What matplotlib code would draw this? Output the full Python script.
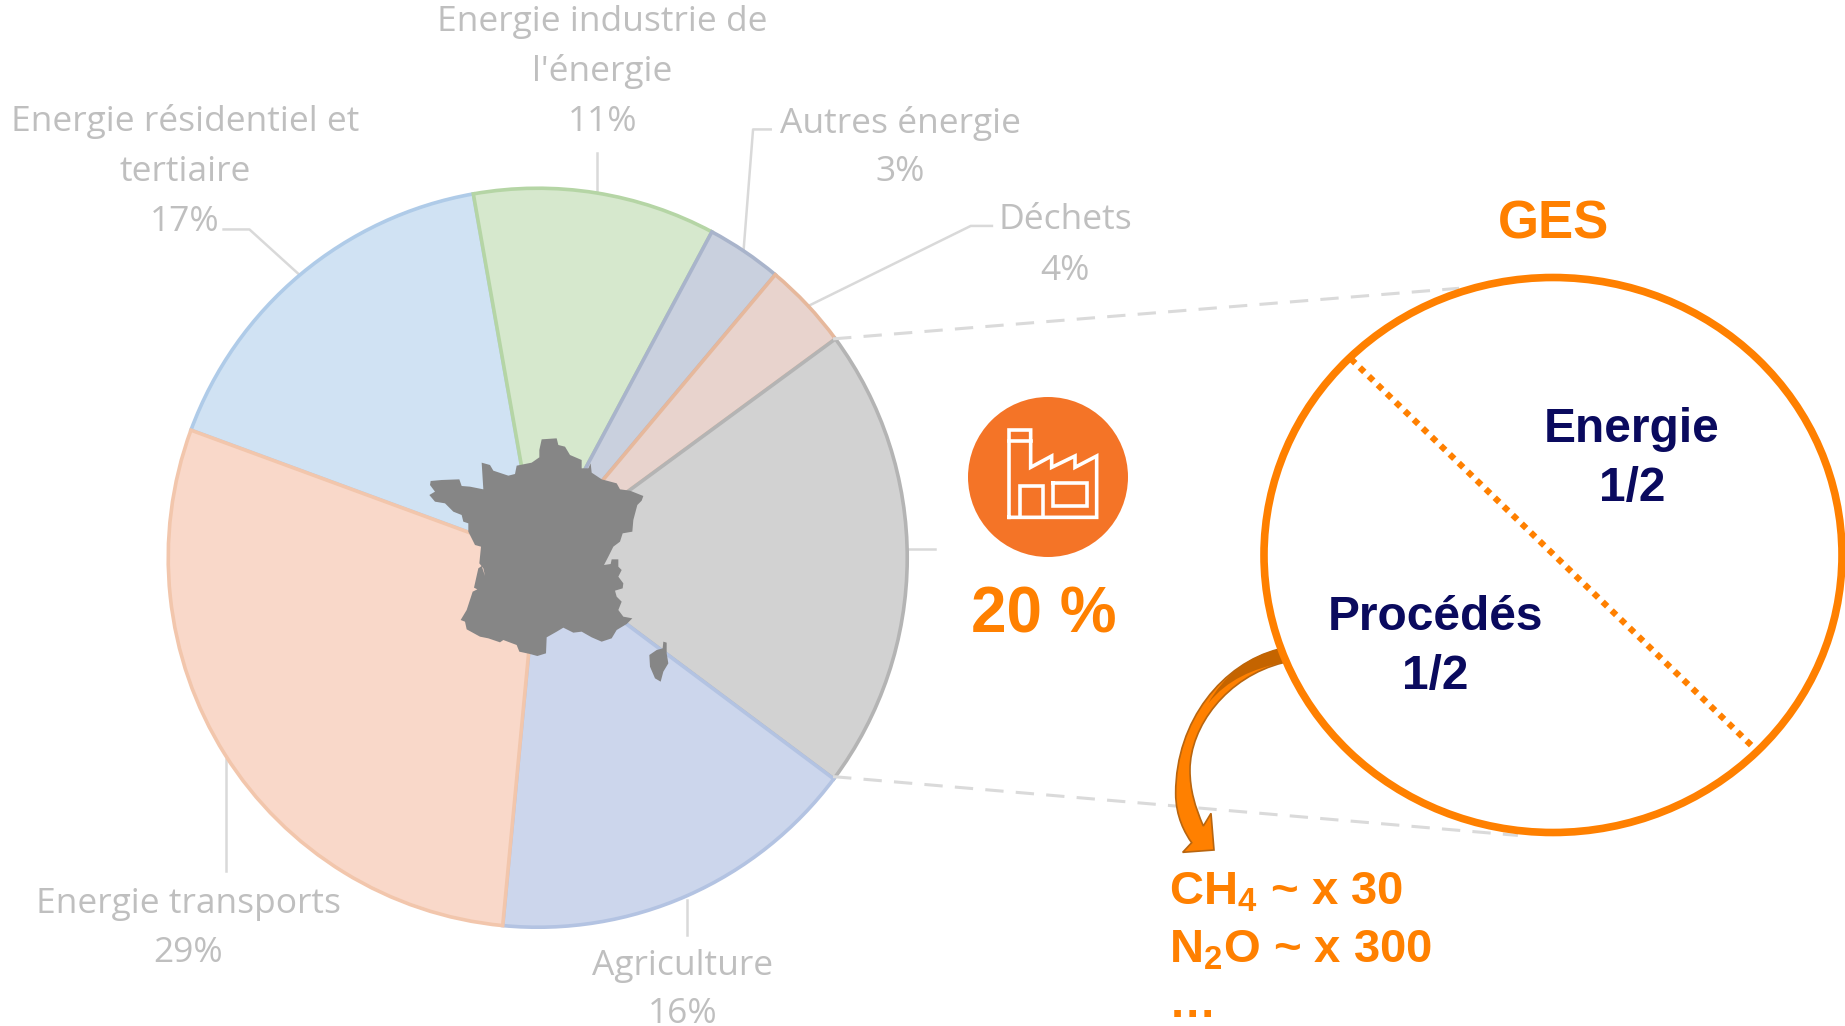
import numpy as np
import matplotlib
matplotlib.use("Agg")
import matplotlib.pyplot as plt
from matplotlib.patches import Polygon, Circle, Ellipse, PathPatch
from matplotlib.path import Path

W, H = 1845, 1026
K = 1845 / 1568.0  # the layout

plt.rcParams['mathtext.fontset'] = 'custom'
plt.rcParams['mathtext.rm'] = 'Liberation Sans:bold'
plt.rcParams['mathtext.default'] = 'regular'

# Pie data, measured from the slice angles (the printed labels are rounded)
sectors = ["Energie résidentiel et tertiaire", "Energie industrie de l'énergie", "Autres énergie",
           "Déchets", "Industrie", "Agriculture", "Energie transports"]
shares = [16.6, 10.6, 3.3, 3.8, 20.3, 16.3, 29.1]
fills = ["#D0E2F3", "#D6E8CD", "#C9D0DE", "#E8D3CD", "#D2D2D2", "#CCD6EC", "#F9D8C9"]
edges = ["#AFCBE8", "#B5D5A5", "#A9B4CB", "#E6B89C", "#B4B4B4", "#B3C3E2", "#F2C6AC"]

# Label lines: text, x, y in shrunk picture pixels
label_lines = [
    ("Energie industrie de", 512, 19), ("l'énergie", 512, 61), ("11%", 512, 104),
    ("Energie résidentiel et", 157, 103), ("tertiaire", 157, 146), ("17%", 157, 189),
    ("Autres énergie", 765, 105), ("3%", 765, 146),
    ("Déchets", 905, 187), ("4%", 905, 230),
    ("Energie transports", 160, 768), ("29%", 160, 810),
    ("Agriculture", 580, 821), ("16%", 580, 862),
]
leaders = [
    [(190, 195), (212, 195), (255, 234)],
    [(507, 130), (507, 163)],
    [(655, 110), (640, 110), (632, 212)],
    [(843, 192), (825, 192), (687, 260)],
    [(771, 467), (795, 467)],
    [(584, 765), (584, 795)],
    [(192, 645), (192, 740)],
]

france = [(425,118),(470,115),(475,135),(495,140),(510,165),(545,180),(545,205),(565,205),(572,190),(575,218),
          (605,238),(650,250),(660,268),(690,272),(730,288),(725,302),(712,315),(700,360),(697,395),(668,400),
          (660,425),(640,440),(625,470),(612,495),(632,492),(635,478),(655,478),(655,500),(665,510),(655,530),
          (670,550),(668,565),(645,572),(650,590),(665,605),(655,630),(670,650),(697,655),(680,672),(650,690),
          (635,715),(605,725),(575,712),(545,695),(520,698),(490,683),(470,695),(440,712),(438,760),(412,768),
          (390,762),(358,755),(350,735),(310,720),(300,727),(265,715),(240,710),(200,688),(195,665),(182,660),
          (200,630),(218,575),(232,568),(222,563),(235,505),(245,498),(255,528),(250,505),(238,490),(243,440),
          (225,435),(205,395),(205,370),(190,365),(185,345),(160,335),(135,310),(105,305),(88,285),(105,275),
          (90,255),(92,243),(125,240),(178,238),(185,258),(210,260),(250,268),(245,188),(270,195),(280,212),
          (325,227),(345,222),(350,197),(395,188),(418,172),(418,150)]
corsica = [(790,725),(800,728),(800,760),(805,790),(790,815),(782,845),(765,835),(750,800),(748,765),(770,750),(788,745)]

factory = [(207,412),(207,150),(272,150),(272,262),(335,228),(335,262),(405,228),(405,262),(470,228),(470,412),(207,412)]
door = [(240,412),(240,318),(308,318),(308,412)]
band = [(207,183),(272,183)]
window = [(340,310),(440,310),(440,378),(340,378),(340,310)]

arrow = [(415,88),(250,130),(107,300),(107,520),(107,590),(135,640),(155,668),(128,697),(222,690),(213,580),(190,618),
         (165,560),(150,510),(150,450),(150,320),(260,170),(430,128),(415,88)]
arrow_codes = [Path.MOVETO, Path.CURVE4, Path.CURVE4, Path.CURVE4, Path.CURVE4, Path.CURVE4, Path.CURVE4,
               Path.LINETO, Path.LINETO, Path.LINETO, Path.LINETO,
               Path.CURVE4, Path.CURVE4, Path.CURVE4, Path.CURVE4, Path.CURVE4, Path.CURVE4, Path.CLOSEPOLY]
arrow_dark = [(415,88),(320,110),(250,170),(205,250),(260,180),(340,145),(430,128),(415,88)]
arrow_dark_codes = [Path.MOVETO, Path.CURVE4, Path.CURVE4, Path.CURVE4, Path.CURVE4, Path.CURVE4, Path.CURVE4,
                    Path.CLOSEPOLY]


def S(x, y):
    return x * K, H - y * K


def crop(points, x0, y0):
    return [(x0 + x / 3.0, H - (y0 + y / 3.0)) for x, y in points]


fig = plt.figure(figsize=(W / 100, H / 100), dpi=100)
ax = fig.add_axes([0, 0, 1, 1])

cx, cy = S(457, 474)
wedges, _ = ax.pie(shares, colors=fills, startangle=159.8, counterclock=False, center=(cx, cy), radius=369.5,
                   normalize=True, wedgeprops=dict(linewidth=2.6))
for wedge, e in zip(wedges, edges):
    wedge.set_edgecolor(e)

ax.set_xlim(0, W)
ax.set_ylim(0, H)
ax.axis('off')

for line in leaders:
    pts = np.array([S(x, y) for x, y in line])
    ax.plot(pts[:, 0], pts[:, 1], color="#D9D9D9", lw=1.8, zorder=0.5)

for txt, x, y in label_lines:
    px, py = S(x, y)
    ax.text(px, py, txt, family="Open Sans", fontsize=25.5, color="#BFBFBF", ha='center', va='center', zorder=3)

ax.add_patch(Polygon(crop(france, 400, 400), closed=True, fc="#868686", ec="none", zorder=4))
ax.add_patch(Polygon(crop(corsica, 400, 400), closed=True, fc="#868686", ec="none", zorder=4))

# dashed zoom lines
for a, b in [((708, 288), (1240, 245)), ((708, 660), (1290, 710))]:
    p, q = S(*a), S(*b)
    ax.plot([p[0], q[0]], [p[1], q[1]], color="#DADADA", lw=2.2, dashes=(6, 4), zorder=1)

# factory badge
ax.add_patch(Circle((1048, H - 477), 80, fc="#F47427", ec="none", zorder=4))
for shape in [factory, door, band, window]:
    pts = np.array(crop(shape, 940, 380))
    ax.plot(pts[:, 0], pts[:, 1], color="white", lw=2.6, solid_joinstyle='miter', zorder=5)

orange = "#FF8000"
navy = "#0A0A5E"
bold = dict(family="Liberation Sans", weight='bold', ha='center', va='center', zorder=6)
ax.text(*S(887, 523), "20 %", color=orange, fontsize=46, **bold)
ax.text(*S(1320, 191), "GES", color=orange, fontsize=38, **bold)
ax.text(*S(1387, 365), "Energie", color=navy, fontsize=34.5, **bold)
ax.text(*S(1387, 415), "1/2", color=navy, fontsize=34.5, **bold)
ax.text(*S(1220, 525), "Procédés", color=navy, fontsize=34.5, **bold)
ax.text(*S(1220, 575), "1/2", color=navy, fontsize=34.5, **bold)

# curved arrow goes under the circle
ax.add_patch(PathPatch(Path(crop(arrow, 1140, 620), arrow_codes), fc=orange, ec="#B8650F", lw=1.2, zorder=3))
ax.add_patch(PathPatch(Path(crop(arrow_dark, 1140, 620), arrow_dark_codes), fc="#C46400", ec="none", zorder=3))

# GES circle
ax.add_patch(Ellipse((1553, H - 555), 578, 555, fc="none", ec=orange, lw=5.5, zorder=5))
p, q = S(1148, 305), S(1490, 635)
ax.plot([p[0], q[0]], [p[1], q[1]], color=orange, lw=4.5, dashes=(1, 1), zorder=5)

gas = dict(family="Liberation Sans", weight='bold', color=orange, fontsize=34, ha='left', va='baseline', zorder=6)
ax.text(1169, H - 905, "CH$_4$ ~ x 30", **gas)
ax.text(1169, H - 963, "N$_2$O ~ x 300", **gas)
ax.text(1169, H - 1017, "…", **gas)

fig.savefig("out.png", dpi=100)
